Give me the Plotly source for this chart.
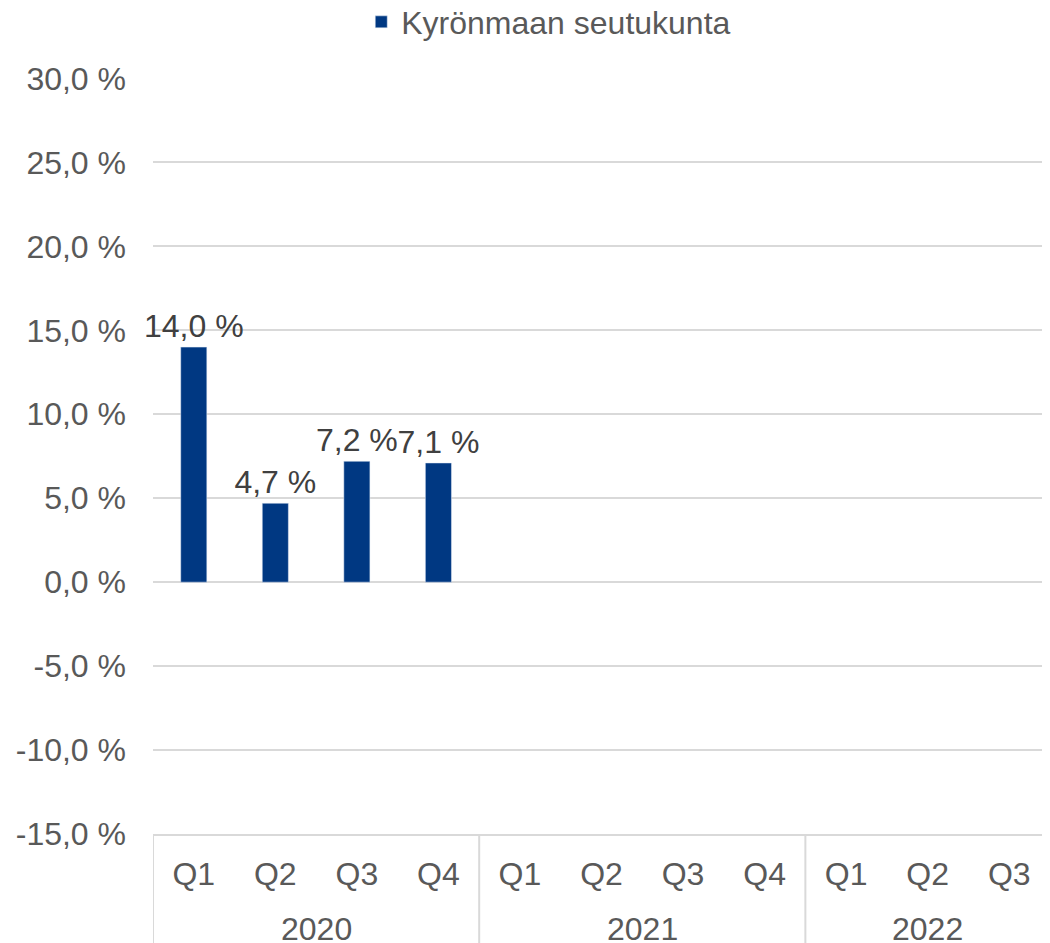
import plotly.graph_objects as go

years = ["2020"] * 4 + ["2021"] * 4 + ["2022"] * 3
quarters = ["Q1", "Q2", "Q3", "Q4", "Q1", "Q2", "Q3", "Q4", "Q1", "Q2", "Q3"]
values = [14.0, 4.7, 7.2, 7.1, None, None, None, None, None, None, None]
series_name = "Kyrönmaan seutukunta"
y_ticks = [-15, -10, -5, 0, 5, 10, 15, 20, 25, 30]
y_ticktext = ["-15,0 %", "-10,0 %", "-5,0 %", "0,0 %", "5,0 %", "10,0 %", "15,0 %", "20,0 %", "25,0 %", "30,0 %"]

FONT = "Liberation Sans, Arial, sans-serif"
FS = 32
GRID = "#d9d9d9"

cats = [f"{y} {q}" for y, q in zip(years, quarters)]

fig = go.Figure()
fig.add_trace(go.Bar(
    x=cats,
    y=values,
    name=series_name,
    marker=dict(color="#003882"),
    texttemplate="%{y:.1f} %",
    textposition="outside",
    constraintext="none",
    textfont=dict(size=FS, color="#404040", family=FONT),
    cliponaxis=False,
    showlegend=True,
))

# year group labels and dividers derived from the years list
groups = []
for i, y in enumerate(years):
    if not groups or groups[-1][0] != y:
        groups.append([y, i, i])
    else:
        groups[-1][2] = i

DIV_BOTTOM = -0.145
for y, start, end in groups:
    fig.add_annotation(x=(start + end) / 2, y=-0.126, xref="x", yref="paper",
                       text=y, showarrow=False, yanchor="middle",
                       font=dict(size=FS, color="#595959", family=FONT))
bounds = [g[1] - 0.5 for g in groups] + [groups[-1][2] + 0.5]
for b in bounds:
    fig.add_shape(type="line", x0=b, x1=b, y0=0, y1=DIV_BOTTOM, xref="x", yref="paper",
                  line=dict(color=GRID, width=2), layer="below")

fig.update_layout(
    width=1050, height=943,
    paper_bgcolor="white", plot_bgcolor="white",
    separators=", ",
    margin=dict(l=145, r=8, t=70, b=117, autoexpand=False),
    font=dict(family=FONT, size=FS, color="#595959"),
    bargap=0.68,
    showlegend=True,
    legend=dict(orientation="h", x=0.515, xanchor="center", xref="container",
                y=1.074, yanchor="middle", yref="paper",
                font=dict(size=FS, color="#595959"),
                itemwidth=30, bgcolor="rgba(0,0,0,0)"),
    xaxis=dict(
        type="category",
        tickvals=cats, ticktext=quarters,
        range=[-0.5, len(cats) - 0.5],
        automargin=False,
        showgrid=False,
        showline=True, linecolor=GRID, linewidth=2,
        ticks="",
        tickfont=dict(size=FS, color="#595959"),
        ticklabelstandoff=11,
    ),
    yaxis=dict(
        automargin=False,
        range=[-15, 30.03],
        tickvals=y_ticks, ticktext=y_ticktext,
        showgrid=True, gridcolor=GRID, gridwidth=2,
        zeroline=False, showline=False,
        tickfont=dict(size=FS, color="#595959"),
        ticklabelstandoff=26,
    ),
)

fig.write_html("out.html")
